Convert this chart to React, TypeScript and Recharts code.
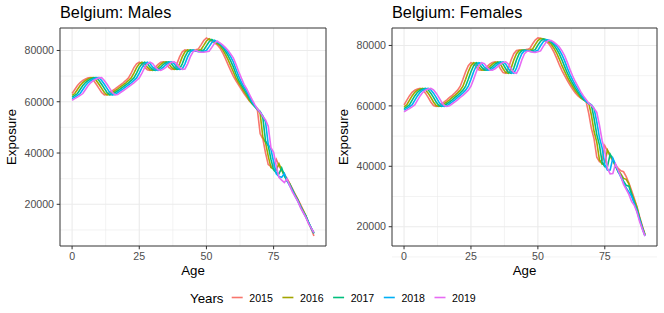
import { LineChart, Line, XAxis, YAxis, CartesianGrid, ReferenceArea } from 'recharts'

const years = ['2015', '2016', '2017', '2018', '2019']
const colors = ['#F8766D', '#A3A500', '#00BF7D', '#00B0F6', '#E76BF3']
const ages = Array.from({ length: 91 }, (_, i) => i)

const xTicks = [0, 25, 50, 75]
const xMinor = [12.5, 37.5, 62.5, 87.5]
const yTicks = [20000, 40000, 60000, 80000]
const yMinor = [10000, 30000, 50000, 70000]

// exposure by age 0..90
const males2015 = [
  63200, 64800, 66300, 67500, 68300, 68900, 69300, 69400, 68300, 66800,
  65200, 63600, 62700, 62800, 63600, 64300, 65000, 65800, 66600, 67400,
  68300, 69300, 71200, 73300, 74800, 75400, 74900, 73500, 72500, 72200,
  72700, 73500, 74600, 75400, 75600, 74800, 73400, 72600, 72800, 74800,
  77500, 79500, 80200, 80000, 79900, 80100, 80300, 80600, 82200, 83900,
  84900, 84200, 83700, 83000, 82200, 81000, 79200, 77000, 74600, 72200,
  70000, 68200, 66500, 64800, 63200, 61700, 60300, 59300, 58400, 56500,
  47500, 45500, 40000, 35500, 34800, 35000, 37500, 35000, 33300, 31800,
  30000, 28100, 26100, 24000, 22000, 20000, 17700, 15300, 12900, 10500, 7600,
]
const males2016 = [
  62500, 63200, 64800, 66300, 67500, 68300, 68900, 69300, 69400, 68300,
  66800, 65200, 63600, 62700, 62800, 63600, 64300, 65000, 65800, 66600,
  67400, 68300, 69300, 71200, 73300, 74800, 75400, 74900, 73500, 72500,
  72200, 72700, 73500, 74600, 75400, 75600, 74800, 73400, 72600, 72800,
  74800, 77500, 79500, 80200, 80000, 79900, 79900, 80100, 80400, 82000,
  83700, 84600, 83900, 83400, 82700, 81900, 80400, 78600, 76500, 74100,
  71700, 69200, 67400, 65700, 64000, 62400, 60500, 59200, 58200, 57300,
  55400, 46100, 44100, 38800, 34400, 33800, 33400, 35800, 33400, 31100,
  29700, 28100, 25600, 23800, 21800, 19400, 17600, 15600, 12700, 10700, 8700,
]
const males2017 = [
  61800, 62500, 63200, 64800, 66300, 67500, 68300, 68900, 69300, 69400,
  68300, 66800, 65200, 63600, 62700, 62800, 63600, 64300, 65000, 65800,
  66600, 67400, 68300, 69300, 71200, 73300, 74800, 75400, 74900, 73500,
  72500, 72200, 72700, 73500, 74600, 75400, 75600, 74800, 73400, 72600,
  72800, 74800, 77500, 79500, 80200, 80000, 79700, 79700, 79900, 80200,
  81800, 83400, 84300, 83600, 83100, 82400, 81300, 79800, 78100, 76000,
  73600, 70800, 68400, 66600, 64900, 63200, 61200, 59400, 58100, 57100,
  56200, 53700, 44700, 42800, 37600, 33400, 32300, 31900, 34200, 31200,
  29100, 27800, 25600, 23300, 21700, 19200, 17100, 15500, 13000, 10500, 8900,
]
const males2018 = [
  61200, 61800, 62500, 63200, 64800, 66300, 67500, 68300, 68900, 69300,
  69400, 68300, 66800, 65200, 63600, 62700, 62800, 63600, 64300, 65000,
  65800, 66600, 67400, 68300, 69300, 71200, 73300, 74800, 75400, 74900,
  73500, 72500, 72200, 72700, 73500, 74600, 75400, 75600, 74800, 73400,
  72600, 72800, 74800, 77500, 79500, 80200, 79800, 79500, 79500, 79700,
  80000, 81500, 83100, 84000, 83300, 82800, 81800, 80700, 79200, 77600,
  75500, 72700, 70000, 67600, 65800, 64100, 62000, 60000, 58300, 57000,
  56000, 54500, 52100, 43400, 41500, 36500, 31900, 30800, 30500, 32000,
  29200, 27200, 25300, 23300, 21200, 19100, 16900, 15000, 12900, 10800, 8700,
]
const males2019 = [
  60600, 61200, 61800, 62500, 63200, 64800, 66300, 67500, 68300, 68900,
  69300, 69400, 68300, 66800, 65200, 63600, 62700, 62800, 63600, 64300,
  65000, 65800, 66600, 67400, 68300, 69300, 71200, 73300, 74800, 75400,
  74900, 73500, 72500, 72200, 72700, 73500, 74600, 75400, 75600, 74800,
  73400, 72600, 72800, 74800, 77500, 79500, 80000, 79600, 79300, 79300,
  79500, 79700, 81200, 82800, 83700, 83000, 82200, 81200, 80100, 78600,
  77100, 74600, 71800, 69200, 66800, 65000, 62900, 60800, 58900, 57200,
  55900, 54300, 52900, 50500, 42100, 40300, 34900, 30500, 29400, 28500,
  29900, 27300, 24800, 23000, 21200, 18700, 16800, 14900, 12500, 10700, 9000,
]

const females2015 = [
  60300, 61800, 63300, 64500, 65200, 65600, 65800, 65300, 64200, 62800,
  61300, 60100, 59800, 60000, 60700, 61300, 62000, 62800, 63500, 64300,
  65200, 66500, 68800, 71300, 73300, 74300, 74000, 72800, 71900, 71800,
  72300, 73000, 73800, 74400, 74600, 73800, 72300, 71000, 70800, 72500,
  75200, 77300, 78300, 78500, 78400, 78500, 78700, 79000, 80500, 81800,
  82500, 82400, 82000, 81400, 80600, 79400, 77800, 75800, 73600, 71700,
  70000, 68400, 66900, 65500, 64300, 63300, 62600, 62100, 61500, 57500,
  52500, 49000, 43000, 41500, 42000, 46800, 45000, 43300, 41800, 40500,
  39300, 38500, 38200, 36600, 34500, 32000, 29400, 26500, 23300, 20300, 17300,
]
const females2016 = [
  59700, 60300, 61800, 63300, 64500, 65200, 65600, 65800, 65300, 64200,
  62800, 61300, 60100, 59800, 60000, 60700, 61300, 62000, 62800, 63500,
  64300, 65200, 66500, 68800, 71300, 73300, 74300, 74000, 72800, 71900,
  71800, 72300, 73000, 73800, 74400, 74600, 73800, 72300, 71000, 70800,
  72500, 75200, 77300, 78300, 78500, 78400, 78300, 78500, 78800, 80300,
  81600, 82300, 82200, 81800, 81200, 80400, 79100, 77500, 75500, 73300,
  71400, 69500, 67900, 66400, 65000, 63900, 62700, 62000, 61500, 60900,
  56900, 51500, 48000, 42100, 40700, 41200, 45400, 43700, 42000, 39900,
  38700, 37500, 36000, 35700, 34200, 31100, 28800, 26500, 22800, 20000, 17500,
]
const females2017 = [
  59100, 59700, 60300, 61800, 63300, 64500, 65200, 65600, 65800, 65300,
  64200, 62800, 61300, 60100, 59800, 60000, 60700, 61300, 62000, 62800,
  63500, 64300, 65200, 66500, 68800, 71300, 73300, 74300, 74000, 72800,
  71900, 71800, 72300, 73000, 73800, 74400, 74600, 73800, 72300, 71000,
  70800, 72500, 75200, 77300, 78300, 78500, 78200, 78100, 78300, 78600,
  80100, 81400, 82100, 82000, 81600, 81000, 80100, 78800, 77200, 75200,
  73000, 70900, 69000, 67400, 65900, 64500, 63300, 62100, 61400, 60900,
  60300, 55800, 50500, 47000, 41300, 39900, 40000, 44000, 42400, 40100,
  38100, 37000, 35100, 33700, 33400, 30800, 28000, 25900, 22800, 19600, 17200,
]
const females2018 = [
  58600, 59100, 59700, 60300, 61800, 63300, 64500, 65200, 65600, 65800,
  65300, 64200, 62800, 61300, 60100, 59800, 60000, 60700, 61300, 62000,
  62800, 63500, 64300, 65200, 66500, 68800, 71300, 73300, 74300, 74000,
  72800, 71900, 71800, 72300, 73000, 73800, 74400, 74600, 73800, 72300,
  71000, 70800, 72500, 75200, 77300, 78300, 78300, 78000, 77900, 78100,
  78400, 79900, 81200, 81900, 81800, 81400, 80700, 79800, 78500, 76900,
  74900, 72500, 70400, 68500, 66900, 65400, 63900, 62700, 61500, 60800,
  60300, 59100, 54700, 49500, 46100, 40500, 38700, 38800, 42700, 40500,
  38300, 36400, 34600, 32800, 31500, 30100, 27700, 25200, 22300, 19600, 16900,
]
const females2019 = [
  58000, 58600, 59100, 59700, 60300, 61800, 63300, 64500, 65200, 65600,
  65800, 65300, 64200, 62800, 61300, 60100, 59800, 60000, 60700, 61300,
  62000, 62800, 63500, 64300, 65200, 66500, 68800, 71300, 73300, 74300,
  74000, 72800, 71900, 71800, 72300, 73000, 73800, 74400, 74600, 73800,
  72300, 71000, 70800, 72500, 75200, 77300, 78100, 78100, 77800, 77700,
  77900, 78200, 79700, 81000, 81700, 81600, 81100, 80400, 79500, 78200,
  76600, 74400, 72000, 69900, 68000, 66400, 64700, 63300, 62100, 60900,
  60200, 59100, 57900, 53600, 48500, 45200, 39300, 37500, 37600, 40800,
  38700, 36600, 34000, 32400, 30700, 28400, 27100, 24900, 21700, 19200, 16900,
]

const males = [males2015, males2016, males2017, males2018, males2019]
const females = [females2015, females2016, females2017, females2018, females2019]

function buildRows(series: number[][]) {
  return ages.map((age, i) => {
    const row: Record<string, number> = { age }
    years.forEach((y, k) => {
      row[y] = series[k][i]
    })
    return row
  })
}

// ggplot-style 5% expansion of the data range
function padded(series: number[][]): [number, number] {
  const all = series.flat()
  const lo = Math.min(...all)
  const hi = Math.max(...all)
  const pad = (hi - lo) * 0.05
  return [lo - pad, hi + pad]
}

const X_DOMAIN: [number, number] = [-4.5, 94.5]

function Panel({ series, left, right }: { series: number[][]; left: number; right: number }) {
  const data = buildRows(series)
  const yDomain = padded(series)
  return (
    <div style={{ position: 'absolute', left, top: 0 }}>
      <LineChart width={332} height={290} data={data} margin={{ top: 28, right, bottom: 24, left: 0 }}>
        <CartesianGrid horizontalValues={yMinor} verticalValues={xMinor} stroke="#EBEBEB" strokeWidth={0.6} />
        <CartesianGrid horizontalValues={yTicks} verticalValues={xTicks} stroke="#EBEBEB" strokeWidth={1.1} />
        <XAxis
          type="number"
          dataKey="age"
          domain={X_DOMAIN}
          ticks={xTicks}
          allowDataOverflow
          axisLine={false}
          tickLine={{ stroke: '#333333' }}
          tickSize={3.3}
          tickMargin={2.8}
          tick={{ fill: '#4D4D4D', fontSize: 10.6 }}
          height={20}
          label={{ value: 'Age', position: 'bottom', offset: 0, fill: '#000000', fontSize: 13.3 }}
        />
        <YAxis
          type="number"
          domain={yDomain}
          ticks={yTicks}
          allowDataOverflow
          axisLine={false}
          tickLine={{ stroke: '#333333' }}
          tickSize={3.3}
          tickMargin={2.7}
          tick={{ fill: '#4D4D4D', fontSize: 10.6 }}
          width={60}
          label={{
            value: 'Exposure',
            angle: -90,
            position: 'insideLeft',
            offset: 11.5,
            fill: '#000000',
            fontSize: 13.3,
            style: { textAnchor: 'middle' },
          }}
        />
        {years.map((y, k) => (
          <Line
            key={y}
            type="linear"
            dataKey={y}
            stroke={colors[k]}
            strokeWidth={1.6}
            dot={false}
            isAnimationActive={false}
          />
        ))}
        <ReferenceArea
          x1={X_DOMAIN[0]}
          x2={X_DOMAIN[1]}
          y1={yDomain[0]}
          y2={yDomain[1]}
          fill="none"
          fillOpacity={0}
          stroke="#333333"
          strokeWidth={1}
        />
      </LineChart>
    </div>
  )
}

export default function App() {
  return (
    <div
      style={{
        position: 'absolute',
        left: 0,
        top: 0,
        width: 664,
        height: 313,
        background: '#FFFFFF',
        fontFamily: '"Liberation Sans", Arial, Helvetica, sans-serif',
      }}
    >
      <Panel series={males} left={0} right={6} />
      <Panel series={females} left={332} right={7} />
      <svg width={664} height={313} style={{ position: 'absolute', left: 0, top: 0, pointerEvents: 'none' }}>
        <text x={60} y={18.3} fontSize={16.3} fill="#000000">Belgium: Males</text>
        <text x={392} y={18.3} fontSize={16.3} fill="#000000">Belgium: Females</text>
        <text x={190} y={302.5} fontSize={13.3} fill="#000000">Years</text>
        {years.map((y, k) => (
          <g key={y}>
            <line x1={231.7 + k * 50.7} x2={242.7 + k * 50.7} y1={297.5} y2={297.5} stroke={colors[k]} strokeWidth={1.6} />
            <text x={249.3 + k * 50.7} y={301.5} fontSize={10.6} fill="#000000">{y}</text>
          </g>
        ))}
      </svg>
    </div>
  )
}
